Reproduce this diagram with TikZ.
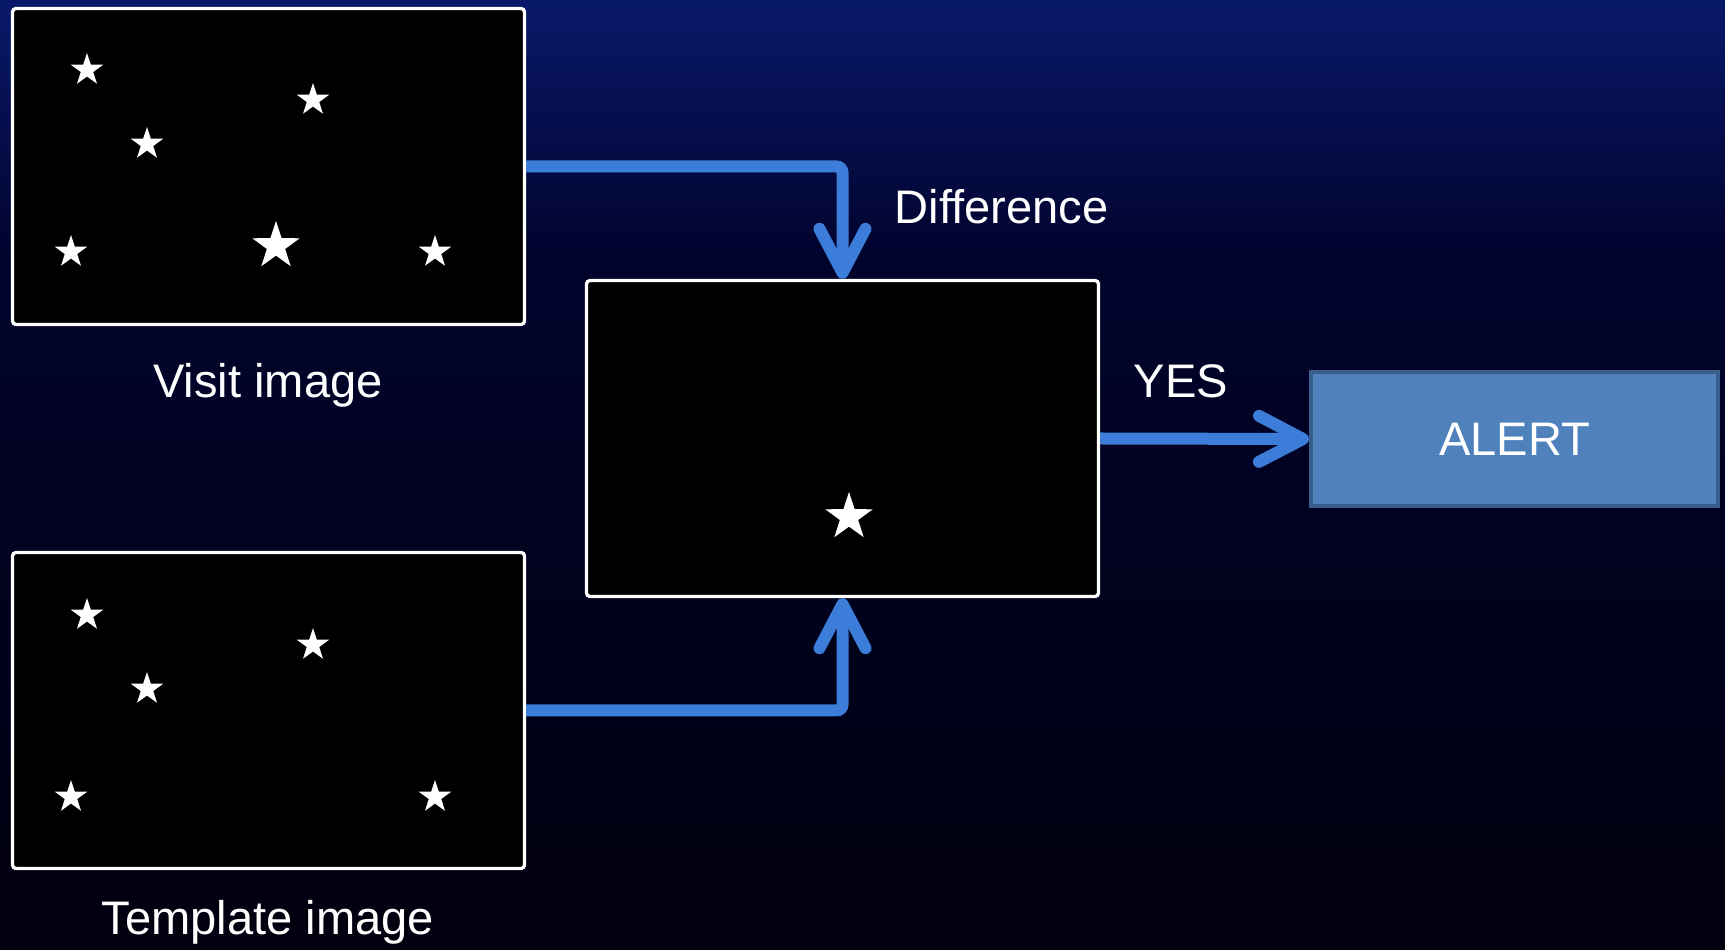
\documentclass[tikz,border=0pt]{standalone}
\usepackage{fontspec}
\setmainfont{Liberation Sans}
\usetikzlibrary{arrows.meta,positioning,shapes.geometric}
\definecolor{night}{HTML}{00000E}
\definecolor{deep}{HTML}{01032C}
\definecolor{navy}{HTML}{09196A}
\definecolor{flow}{HTML}{3B7DD8}
\definecolor{alertfill}{HTML}{4F81BD}
\definecolor{alertline}{HTML}{3A5E8C}
\tikzset{
  frame/.style={draw=white,fill=black,line width=0.33mm,rounded corners=1pt,minimum width=51.2mm,minimum height=31.6mm,inner sep=0pt},
  alertbox/.style={draw=alertline,fill=alertfill,line width=0.4mm,minimum width=40.7mm,minimum height=13.4mm,text=white,font=\fontsize{13.4}{16}\selectfont},
  arr/.style={-{Straight Barb[length=4.4mm,width=4.6mm,round]},draw=flow,line width=1.2mm,rounded corners=0.6mm},
  lbl/.style={text=white,font=\fontsize{13.4}{16}\selectfont,inner sep=0pt},
  sstar/.style={star,star points=5,star point ratio=2.6,fill=white,inner sep=0pt,minimum size=3.4mm},
  bstar/.style={sstar,minimum size=5mm},
}
\begin{document}
\begin{tikzpicture}[x=0.1mm,y=-0.1mm]
\useasboundingbox (0,0) rectangle (1725,950);
\shade[top color=navy,bottom color=deep] (0,0) rectangle (1725,260);
\shade[top color=deep,bottom color=night] (0,260) rectangle (1725,950);
% the three frames
\node[frame] (visit) at (268.5,166.5) {};
\node[frame] (tmpl) at (268.5,710.5) {};
\node[frame] (diff) at (842.5,438.5) {};
\node[alertbox] (alert) at (1514.5,439) {ALERT};
% stars
\foreach \x/\y [count=\i] in {87/70,313/100,147/144,71/252,435/252} {
  \node[sstar] (vs\i) at (\x,\y) {};
  \node[sstar] (ts\i) at (\x,\y+545) {};
}
\node[bstar] (vbig) at (276,246) {};
\node[bstar] (dbig) at (849,517) {};
% labels
\node[lbl] (vlab) at (268,385) {Visit image};
\node[lbl] (tlab) at (268,922) {Template image};
\node[lbl,anchor=west] (dlab) at (894,207) {Difference};
\node[lbl] (ylab) at (1181,381) {YES};
% arrows
\draw[arr] (visit.east) -| (diff.north);
\draw[arr] (tmpl.east) -| (diff.south);
\draw[arr] (diff.east) -- (alert.west);
\end{tikzpicture}
\end{document}
